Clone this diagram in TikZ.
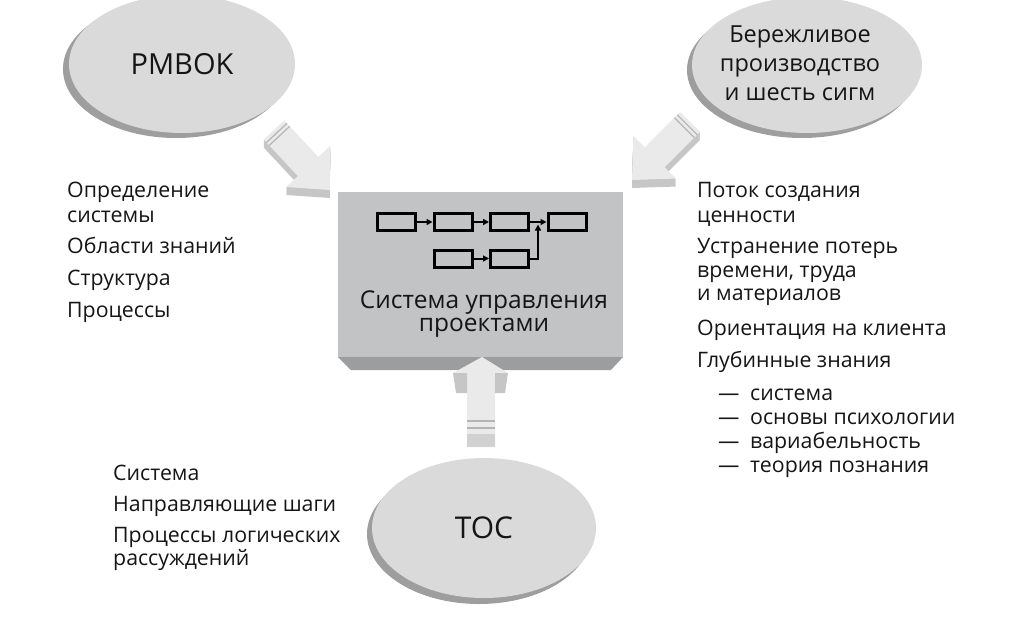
\documentclass[tikz,border=0pt]{standalone}
\usepackage{fontspec}
\setmainfont{Open Sans}
\usetikzlibrary{shapes.geometric,arrows.meta}
\definecolor{ellfill}{HTML}{DADADA}
\definecolor{shadowc}{HTML}{9E9E9E}
\definecolor{boxfill}{HTML}{C2C3C5}
\definecolor{boxdark}{HTML}{9C9D9F}
\definecolor{arrtop}{HTML}{EAEAEA}
\definecolor{arrside}{HTML}{C6C6C6}
\definecolor{stripec}{HTML}{B4B4B4}
\definecolor{txt}{HTML}{151515}
\newcommand\arrowshape{(0,-14) -- (50,-14) -- (50,-30) -- (82,0) -- (50,30) -- (50,14) -- (0,14) -- cycle}
\tikzset{
  ell/.style={ellipse, fill=ellfill, inner sep=0pt, text=txt},
  shad/.style={ellipse, fill=shadowc, inner sep=0pt},
  lst/.style={anchor=base west, inner sep=0pt, text=txt, font=\fontsize{21.3}{25}\selectfont},
  boxtxt/.style={anchor=base, inner sep=0pt, text=txt, font=\fontsize{24.5}{28}\selectfont},
  fbox/.style={draw=black, line width=3pt, minimum width=38pt, minimum height=17pt, inner sep=0pt},
  flow/.style={line width=2pt, -{Triangle[length=6pt,width=6pt]}},
  stripe/.style={draw=stripec, line width=1.2pt}
}
\begin{document}
\begin{tikzpicture}[x=1pt,y=-1pt]
\useasboundingbox (0,0) rectangle (1030,616);
% ---------- ellipses ----------
\node[shad, minimum width=226pt, minimum height=138pt] (pmboksh) at (176,69) {};
\node[ell, minimum width=226pt, minimum height=138pt, font=\fontsize{29}{34}\selectfont] (pmbok) at (182,64) {PMBOK};
\node[shad, minimum width=230pt, minimum height=136pt] (leansh) at (802,70) {};
\node[ell, minimum width=230pt, minimum height=136pt] (lean) at (807,65) {};
\node[boxtxt, font=\fontsize{23.5}{27}\selectfont] (lean1) at (800,42) {Бережливое};
\node[boxtxt, font=\fontsize{23.5}{27}\selectfont] (lean2) at (800,71) {производство};
\node[boxtxt, font=\fontsize{23.5}{27}\selectfont] (lean3) at (800,100) {и шесть сигм};
\node[shad, minimum width=224pt, minimum height=140pt] (tocsh) at (479,534) {};
\node[ell, minimum width=224pt, minimum height=140pt, font=\fontsize{30}{36}\selectfont] (toc) at (484,528) {TOC};
% ---------- central box ----------
\fill[boxdark] (338,357) -- (623,357) -- (611,370) -- (351,370) -- cycle;
\node[fill=boxfill, minimum width=285pt, minimum height=165pt, inner sep=0pt, anchor=north west] (sys) at (338,192) {};
\node[boxtxt] (sys1) at (484,308) {Система управления};
\node[boxtxt] (sys2) at (484,331) {проектами};
% flowchart
\node[fbox] (b1) at (396,222) {};
\node[fbox] (b2) at (453,222) {};
\node[fbox] (b3) at (509.5,222) {};
\node[fbox] (b4) at (567,222) {};
\node[fbox] (b5) at (453,258.5) {};
\node[fbox] (b6) at (509.5,258.5) {};
\coordinate (j) at (538,224.5);
\draw[flow] (b1) -- (b2);
\draw[flow] (b2) -- (b3);
\draw[flow] (b3) -- (b4);
\draw[flow] (b5) -- (b6);
\draw[flow] (b6.east) -| (j);
% ---------- 3D block arrows ----------
% PMBOK arrow
\foreach \k in {1,...,8}{
  \fill[arrside, shift={(0,\k)}, shift={(274,130)}, rotate=-47] \arrowshape;
}
\fill[arrtop, shift={(274,130)}, rotate=-47] \arrowshape;
\begin{scope}[shift={(274,130)}, rotate=-47]
  \draw[stripe] (4,-14) -- (4,14);
  \draw[stripe] (8,-14) -- (8,14);
\end{scope}
% Lean arrow
\foreach \k in {1,...,8}{
  \fill[arrside, shift={(0,\k)}, shift={(690,122)}, rotate=-135] \arrowshape;
}
\fill[arrtop, shift={(690,122)}, rotate=-135] \arrowshape;
\begin{scope}[shift={(690,122)}, rotate=-135]
  \draw[stripe] (4,-14) -- (4,14);
  \draw[stripe] (8,-14) -- (8,14);
\end{scope}
% TOC arrow
\fill[arrtop] (482,357) -- (508,373) -- (495,373) -- (495,447) -- (467,447) -- (467,373) -- (453,373) -- cycle;
\fill[arrside] (453,373) -- (467,373) -- (467,393) -- (456,393) -- cycle;
\fill[arrside] (508,373) -- (495,373) -- (495,393) -- (505,393) -- cycle;
\fill[arrside!70!arrtop] (467,434) rectangle (495,447);
\draw[stripe] (467,421) -- (495,421);
\draw[stripe] (467,428) -- (495,428);
% ---------- lists ----------
\node[lst] (p1) at (67,197) {Определение};
\node[lst] (p2) at (67,222) {системы};
\node[lst] (p3) at (67,253) {Области знаний};
\node[lst] (p4) at (67,285) {Структура};
\node[lst] (p5) at (67,317) {Процессы};
\node[lst] (r1) at (697,197) {Поток создания};
\node[lst] (r2) at (697,222) {ценности};
\node[lst] (r3) at (697,253) {Устранение потерь};
\node[lst] (r4) at (697,277) {времени, труда};
\node[lst] (r5) at (697,300) {и материалов};
\node[lst] (r6) at (697,335) {Ориентация на клиента};
\node[lst] (r7) at (697,367) {Глубинные знания};
\node[lst] (d1) at (718,400) {—};
\node[lst] (s1) at (750,400) {система};
\node[lst] (d2) at (718,424) {—};
\node[lst] (s2) at (750,424) {основы психологии};
\node[lst] (d3) at (718,448) {—};
\node[lst] (s3) at (750,448) {вариабельность};
\node[lst] (d4) at (718,472) {—};
\node[lst] (s4) at (750,472) {теория познания};
\node[lst] (t1) at (113,480) {Система};
\node[lst] (t2) at (113,511) {Направляющие шаги};
\node[lst] (t3) at (113,542) {Процессы логических};
\node[lst] (t4) at (113,565) {рассуждений};
\end{tikzpicture}
\end{document}
